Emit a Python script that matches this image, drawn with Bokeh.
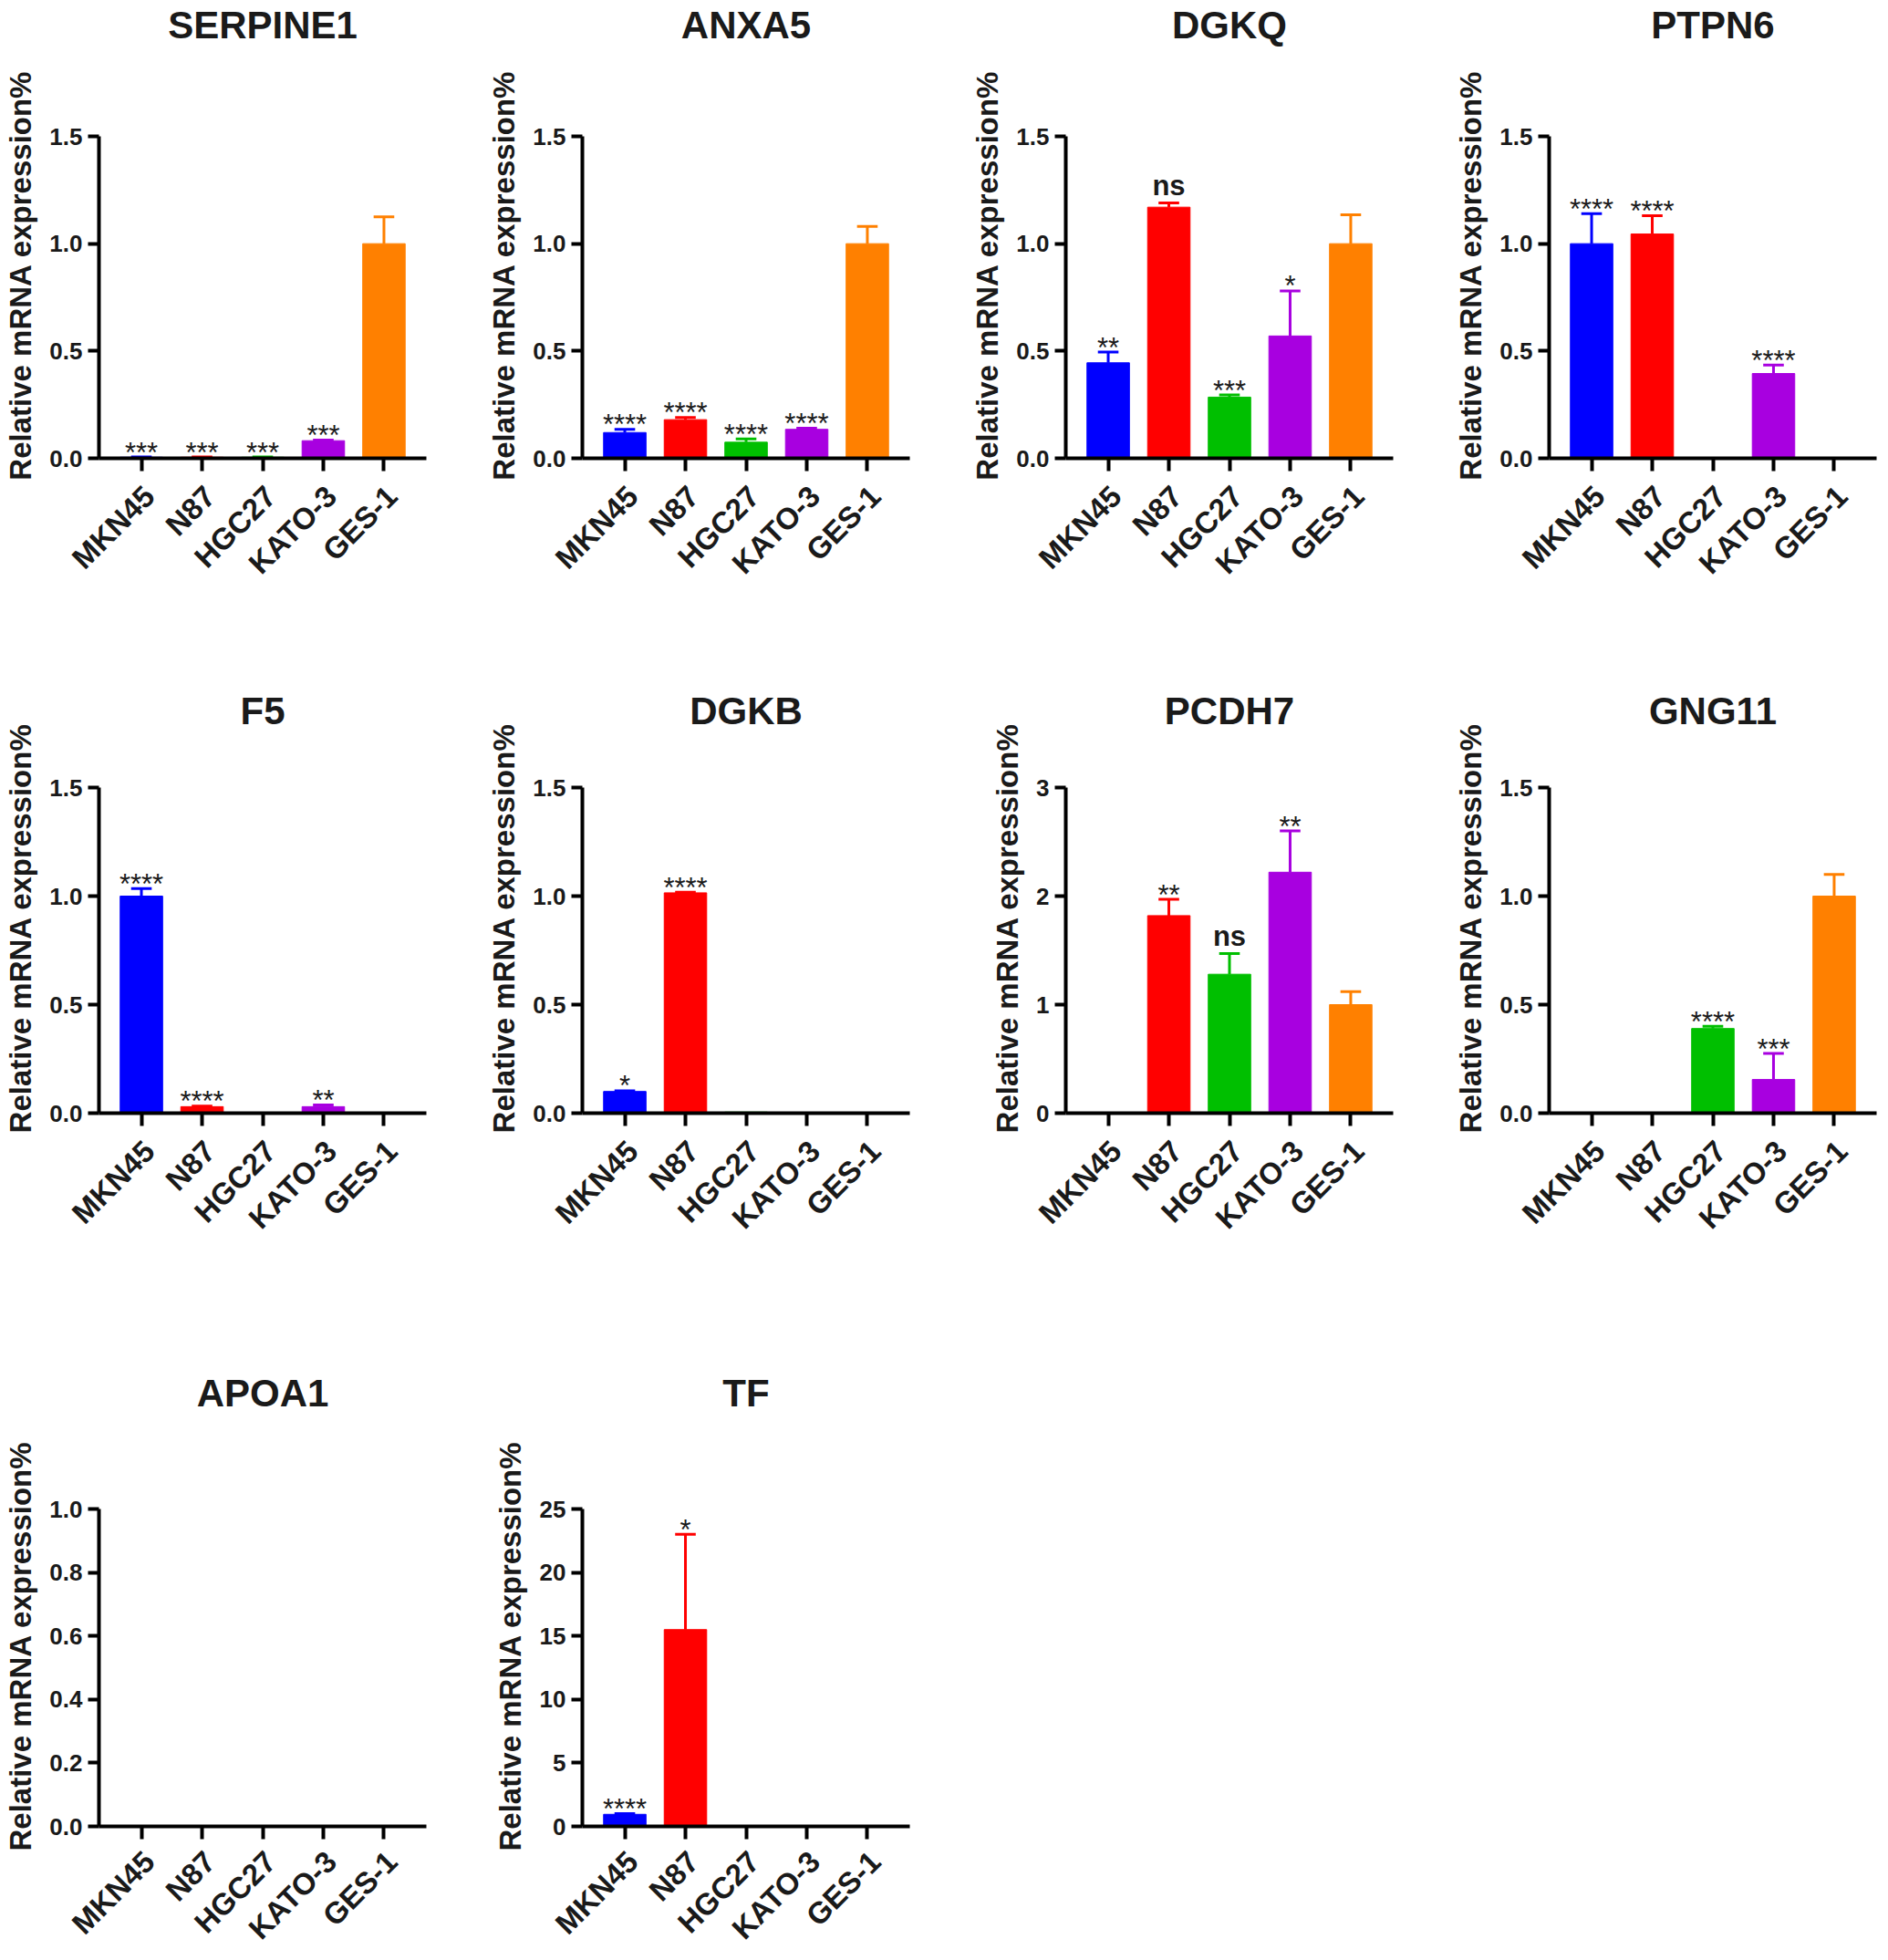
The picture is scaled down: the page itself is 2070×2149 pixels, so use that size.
import math
from bokeh.plotting import figure
from bokeh.layouts import column, row
from bokeh.models import FixedTicker, Range1d, ColumnDataSource, LinearAxis
from bokeh.embed import file_html
from bokeh.resources import INLINE
from bokeh.core.properties import value

cell_lines = ["MKN45", "N87", "HGC27", "KATO-3", "GES-1"]
bar_colors = ["#0000FF", "#FF0000", "#00BF00", "#A800E0", "#FF8000"]
y_title = "Relative mRNA expression%"

serpine1_mean = [0.005, 0.005, 0.005, 0.082, 1.0]
serpine1_err = [0.001, 0.001, 0.001, 0.003, 0.125]
serpine1_sig = ["***", "***", "***", "***", ""]

anxa5_mean = [0.12, 0.18, 0.075, 0.135, 1.0]
anxa5_err = [0.015, 0.01, 0.015, 0.005, 0.08]
anxa5_sig = ["****", "****", "****", "****", ""]

dgkq_mean = [0.445, 1.17, 0.285, 0.57, 1.0]
dgkq_err = [0.05, 0.02, 0.01, 0.21, 0.135]
dgkq_sig = ["**", "ns", "***", "*", ""]

ptpn6_mean = [1.0, 1.045, 0.0, 0.395, 0.0]
ptpn6_err = [0.14, 0.085, 0.0, 0.04, 0.0]
ptpn6_sig = ["****", "****", "", "****", ""]

f5_mean = [1.0, 0.03, 0.0, 0.03, 0.0]
f5_err = [0.035, 0.003, 0.0, 0.008, 0.0]
f5_sig = ["****", "****", "", "**", ""]

dgkb_mean = [0.1, 1.015, 0.005, 0.0, 0.0]
dgkb_err = [0.003, 0.003, 0.0, 0.0, 0.0]
dgkb_sig = ["*", "****", "", "", ""]

pcdh7_mean = [0.0, 1.82, 1.28, 2.22, 1.0]
pcdh7_err = [0.0, 0.15, 0.19, 0.38, 0.12]
pcdh7_sig = ["", "**", "ns", "**", ""]

gng11_mean = [0.0, 0.0, 0.39, 0.155, 1.0]
gng11_err = [0.0, 0.0, 0.01, 0.12, 0.1]
gng11_sig = ["", "", "****", "***", ""]

apoa1_mean = [0.0, 0.0, 0.0, 0.0, 0.0]
apoa1_err = [0.0, 0.0, 0.0, 0.0, 0.0]
apoa1_sig = ["", "", "", "", ""]

tf_mean = [0.95, 15.5, 0.0, 0.0, 0.0]
tf_err = [0.05, 7.5, 0.0, 0.0, 0.0]
tf_sig = ["****", "*", "", "", ""]

ticks_15 = [0, 0.5, 1.0, 1.5]
tick_labels_15 = ["0.0", "0.5", "1.0", "1.5"]
ticks_3 = [0, 1, 2, 3]
tick_labels_3 = ["0", "1", "2", "3"]
ticks_1 = [0, 0.2, 0.4, 0.6, 0.8, 1.0]
tick_labels_1 = ["0.0", "0.2", "0.4", "0.6", "0.8", "1.0"]
ticks_25 = [0, 5, 10, 15, 20, 25]
tick_labels_25 = ["0", "5", "10", "15", "20", "25"]

panels = [
    ("SERPINE1", serpine1_mean, serpine1_err, serpine1_sig, 1.5, ticks_15, tick_labels_15),
    ("ANXA5", anxa5_mean, anxa5_err, anxa5_sig, 1.5, ticks_15, tick_labels_15),
    ("DGKQ", dgkq_mean, dgkq_err, dgkq_sig, 1.5, ticks_15, tick_labels_15),
    ("PTPN6", ptpn6_mean, ptpn6_err, ptpn6_sig, 1.5, ticks_15, tick_labels_15),
    ("F5", f5_mean, f5_err, f5_sig, 1.5, ticks_15, tick_labels_15),
    ("DGKB", dgkb_mean, dgkb_err, dgkb_sig, 1.5, ticks_15, tick_labels_15),
    ("PCDH7", pcdh7_mean, pcdh7_err, pcdh7_sig, 3, ticks_3, tick_labels_3),
    ("GNG11", gng11_mean, gng11_err, gng11_sig, 1.5, ticks_15, tick_labels_15),
    ("APOA1", apoa1_mean, apoa1_err, apoa1_sig, 1.0, ticks_1, tick_labels_1),
    ("TF", tf_mean, tf_err, tf_sig, 25, ticks_25, tick_labels_25),
]

FONT = "Liberation Sans"
INK = "#1a1a1a"
COL_W = [530, 530, 530, 470]
ROW_H = [740, 760, 649]
TOP_B = [145, 123, 150]
FRAME_H = [357, 357, 357]
TITLE_STANDOFF = [93, 55, 98]
LABEL_STANDOFF = [16, 16, 13]
FRAME_W = 359
LEFT_B = 108
LABEL_SHIFT = 0.13
YLAB_POS = 0.568


def hidden_axis(ax):
    ax.axis_line_color = None
    ax.major_tick_line_color = None
    ax.minor_tick_line_color = None
    ax.major_label_text_font = FONT
    ax.major_label_text_font_style = "bold"
    ax.major_label_text_color = INK


def make_panel(spec, r, c):
    name, mean, err, sig, ymax, ticks, tick_labels = spec
    w = COL_W[c]
    h = ROW_H[r]
    p = figure(width=w, height=h, output_backend="svg", toolbar_location=None,
               x_range=Range1d(-0.7, 4.7), y_range=Range1d(0, ymax),
               min_border_left=LEFT_B, min_border_right=max(w - LEFT_B - FRAME_W, 0),
               min_border_top=TOP_B[r], min_border_bottom=h - TOP_B[r] - FRAME_H[r])
    p.outline_line_color = None
    p.grid.visible = False
    p.background_fill_color = "white"
    p.border_fill_color = "white"

    idx = list(range(len(cell_lines)))
    tops = [m + e for m, e in zip(mean, err)]
    src = ColumnDataSource(dict(x=idx, mean=mean, color=bar_colors))
    p.vbar(x="x", top="mean", bottom=0, width=0.7, fill_color="color",
           line_color="color", line_width=1, source=src)
    has_err = [e > 0 for e in err]
    esrc = ColumnDataSource(dict(
        x=[i for i, k in zip(idx, has_err) if k],
        y0=[m for m, k in zip(mean, has_err) if k],
        y1=[t for t, k in zip(tops, has_err) if k],
        cx0=[i - 0.17 for i, k in zip(idx, has_err) if k],
        cx1=[i + 0.17 for i, k in zip(idx, has_err) if k],
        color=[col for col, k in zip(bar_colors, has_err) if k],
    ))
    p.segment(x0="x", x1="x", y0="y0", y1="y1", line_color="color", line_width=3, source=esrc)
    p.segment(x0="cx0", x1="cx1", y0="y1", y1="y1", line_color="color", line_width=3, source=esrc)

    star_src = ColumnDataSource(dict(
        x=[i for i, s in zip(idx, sig) if s and s != "ns"],
        y=[t for t, s in zip(tops, sig) if s and s != "ns"],
        t=[s for s in sig if s and s != "ns"],
    ))
    p.text(x="x", y="y", text="t", source=star_src, text_align="center",
           text_baseline="alphabetic", y_offset=-5, text_font=value(FONT),
           text_font_size="31px", text_color=INK)
    ns_src = ColumnDataSource(dict(
        x=[i for i, s in zip(idx, sig) if s == "ns"],
        y=[t for t, s in zip(tops, sig) if s == "ns"],
        t=[s for s in sig if s == "ns"],
    ))
    p.text(x="x", y="y", text="t", source=ns_src, text_align="center",
           text_baseline="alphabetic", y_offset=-19, text_font=value(FONT),
           text_font_size="31px", text_font_style="bold", text_color=INK)

    for ax in (p.xaxis[0], p.yaxis[0]):
        ax.axis_line_width = 4
        ax.axis_line_color = "black"
        ax.major_tick_line_width = 4
        ax.major_tick_line_color = "black"
        ax.major_tick_in = 0
        ax.minor_tick_line_color = None
        ax.major_label_text_font = FONT
        ax.major_label_text_font_style = "bold"
        ax.major_label_text_color = INK
    xa = p.xaxis[0]
    xa.ticker = FixedTicker(ticks=idx)
    xa.major_label_overrides = {i: "" for i in idx}
    xa.major_tick_out = 14
    xa.major_label_standoff = 0
    xa.major_label_text_font_size = "1px"

    ya = p.yaxis[0]
    ya.ticker = FixedTicker(ticks=ticks)
    ya.major_label_overrides = {t: s for t, s in zip(ticks, tick_labels)}
    ya.major_tick_out = 12
    ya.major_label_standoff = 6
    ya.major_label_text_font_size = "26px"

    # rotated category labels on a slightly shifted helper axis
    p.extra_x_ranges = {"lab": Range1d(-0.7 - LABEL_SHIFT, 4.7 - LABEL_SHIFT)}
    la = LinearAxis(x_range_name="lab", ticker=FixedTicker(ticks=idx),
                    major_label_overrides={i: n for i, n in enumerate(cell_lines)},
                    major_label_orientation=math.pi / 4,
                    major_label_standoff=LABEL_STANDOFF[r],
                    major_label_text_font_size="33px")
    hidden_axis(la)
    p.add_layout(la, "below")

    # y title on a helper axis (lets it sit slightly above the frame centre)
    p.extra_y_ranges = {"ylab": Range1d(0, 1)}
    yl = LinearAxis(y_range_name="ylab", ticker=FixedTicker(ticks=[YLAB_POS]),
                    major_label_overrides={YLAB_POS: y_title},
                    major_label_orientation="parallel",
                    major_label_standoff=4,
                    major_label_text_font_size="33px")
    hidden_axis(yl)
    p.add_layout(yl, "left")

    # panel title on a helper axis above the frame
    ta = LinearAxis(ticker=FixedTicker(ticks=[2]),
                    major_label_overrides={2: name},
                    major_label_standoff=TITLE_STANDOFF[r],
                    major_label_text_font_size="42px")
    hidden_axis(ta)
    p.add_layout(ta, "above")
    return p


rows = []
k = 0
for r, ncols in enumerate([4, 4, 2]):
    figs = []
    for c in range(ncols):
        figs.append(make_panel(panels[k], r, c))
        k += 1
    rows.append(row(*figs))

layout = column(*rows)
open("out.html", "w").write(file_html(layout, INLINE))
